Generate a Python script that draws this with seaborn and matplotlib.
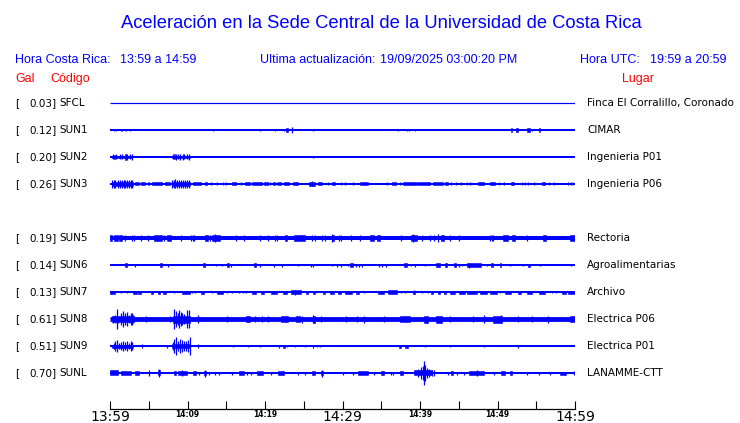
import seaborn as sns
import pandas as pd
import matplotlib
matplotlib.use("Agg")
import matplotlib.pyplot as plt

# station rows (row index from top, SUN4 slot left empty)
codes = ["SFCL", "SUN1", "SUN2", "SUN3", "SUN5", "SUN6", "SUN7", "SUN8", "SUN9", "SUNL"]
rows = [0, 1, 2, 3, 5, 6, 7, 8, 9, 10]
gal = [0.03, 0.12, 0.20, 0.26, 0.19, 0.14, 0.13, 0.61, 0.51, 0.70]
places = ["Finca El Corralillo, Coronado", "CIMAR", "Ingenieria P01", "Ingenieria P06",
          "Rectoria", "Agroalimentarias", "Archivo", "Electrica P06", "Electrica P01",
          "LANAMME-CTT"]
# half thickness of the quiet trace, in pixels
base_amp = [0.6, 1.0, 1.0, 1.0, 2.0, 1.0, 1.0, 2.4, 1.0, 1.0]

# trace envelopes: (minute, half-amplitude px) spikes
# and (start minute, end minute, half-amplitude px) bursts
sfcl = []
sun1 = [(0.56, 1.3), (0.77, 1.3), (1.38, 1.0), (1.59, 1.3), (2.02, 1.3), (2.62, 1.3),
        (13.3, 1.3), (19.4, 1.0), (21.3, 1.3), (22.5, 1.3), (22.7, 22.95, 1.8), (23.5, 2.7),
        (26.2, 1.3), (37.1, 1.0), (38.3, 1.0), (38.6, 1.0), (39.4, 1.3), (51.75, 51.9, 1.8),
        (52.4, 52.7, 1.8), (53.8, 54.2, 1.8), (54.5, 1.3), (55.3, 55.45, 1.8)]
sun2 = [(0.3, 2.9, 1.2), (0.39, 2.5), (0.5, 0.62, 2.0), (0.77, 2.5), (1.29, 2.5), (1.5, 2.5),
        (1.9, 2.0, 2.8), (2.06, 2.5), (2.24, 3.0), (2.58, 2.5), (2.8, 3.0),
        (8.0, 10.3, 1.2), (8.13, 2.5), (8.25, 8.38, 2.5), (8.5, 2.8), (8.8, 2.5), (9.0, 2.8),
        (9.4, 3.0), (9.55, 2.5), (9.98, 2.5), (10.2, 3.0), (26.2, 0.8)]
sun3 = [(0.2, 3.0, 2.0), (0.3, 4.0), (0.47, 4.2), (0.65, 4.0), (1.0, 4.2), (1.25, 3.8),
        (1.5, 4.2), (1.76, 4.0), (1.98, 4.2), (2.2, 3.8), (2.45, 4.2), (2.7, 4.0), (2.88, 4.2),
        (3.2, 3.7, 1.5), (4.0, 4.5, 1.5), (4.9, 5.0, 1.5), (5.4, 6.7, 1.5), (7.1, 7.7, 1.5),
        (8.0, 10.3, 2.0), (8.05, 4.0), (8.2, 4.2), (8.4, 4.5), (8.6, 4.0), (8.9, 3.8),
        (9.15, 4.2), (9.4, 4.0), (9.7, 3.8), (9.98, 4.2), (10.2, 4.0),
        (10.7, 11.8, 1.5), (12.25, 12.5, 1.5), (13.0, 1.5), (13.8, 1.5), (14.6, 1.5),
        (15.0, 1.5), (15.8, 16.2, 1.5), (16.9, 1.5), (17.4, 18.0, 1.5), (18.3, 19.6, 1.5),
        (19.9, 20.4, 1.5), (20.7, 1.5), (21.0, 21.3, 1.5), (21.5, 1.5), (21.7, 22.1, 1.5),
        (22.5, 23.1, 1.5), (23.6, 24.3, 1.5), (25.7, 26.5, 1.6), (26.0, 2.5),
        (26.8, 27.3, 1.5), (28.1, 1.5), (28.7, 29.0, 1.5), (29.8, 1.5), (30.3, 1.5),
        (31.4, 1.5), (32.2, 33.3, 1.5), (35.8, 1.5), (36.4, 36.9, 1.5), (37.4, 1.5),
        (37.8, 39.6, 1.5), (39.8, 41.3, 1.5), (41.7, 43.0, 1.5), (43.2, 43.6, 1.5),
        (44.0, 1.5), (44.7, 1.5), (45.3, 1.5), (46.0, 1.5), (46.4, 1.5), (47.5, 48.2, 1.5),
        (49.0, 49.7, 1.5), (50.2, 1.5), (50.9, 1.5), (51.7, 52.1, 1.5), (53.1, 1.5),
        (53.6, 1.5), (53.9, 1.5), (54.7, 1.5), (55.7, 56.1, 1.5), (56.6, 1.5), (57.3, 1.5),
        (59.1, 1.5), (59.5, 1.5), (59.8, 1.5)]
sun5 = [(0.0, 0.3, 2.7), (0.56, 1.0, 2.7), (1.16, 1.5, 2.7), (1.94, 3.0), (2.8, 3.0),
        (3.14, 3.0), (4.0, 3.0), (4.95, 3.0), (5.68, 6.67, 2.7), (7.0, 3.0), (7.3, 7.87, 2.7),
        (9.16, 3.0), (10.45, 3.0), (10.7, 3.0), (10.9, 3.0), (12.25, 12.7, 2.7), (12.9, 3.0),
        (13.1, 14.2, 2.7), (13.6, 3.8), (16.3, 3.0), (17.3, 3.0), (19.35, 3.0), (20.4, 3.0),
        (21.3, 3.0), (21.6, 3.0), (22.6, 22.9, 2.7), (23.7, 25.1, 2.7), (26.0, 3.0),
        (26.4, 3.0), (27.3, 3.0), (27.7, 3.0), (28.6, 28.9, 2.7), (28.7, 4.0), (29.5, 3.0),
        (29.8, 3.0), (31.1, 3.0), (32.2, 3.0), (33.6, 34.1, 2.7), (34.4, 34.8, 2.7),
        (37.5, 3.0), (38.8, 39.6, 2.7), (39.1, 3.8), (40.2, 3.0), (41.3, 3.0), (41.8, 3.0),
        (42.35, 4.0), (42.7, 43.1, 2.7), (43.9, 3.0), (45.0, 3.0), (49.0, 3.0), (49.3, 3.0),
        (49.45, 3.0), (50.65, 51.3, 2.7), (51.9, 52.25, 2.7), (53.75, 3.0),
        (55.9, 56.2, 2.7), (59.3, 60.0, 2.7)]
sun6 = [(1.9, 2.15, 1.8), (3.27, 1.5), (6.45, 6.75, 1.8), (7.5, 1.5), (12.0, 12.2, 1.8),
        (13.7, 1.2), (14.5, 1.2), (15.1, 15.35, 1.8), (15.65, 1.5), (18.6, 18.9, 1.8),
        (19.3, 1.5), (21.2, 1.5), (22.2, 1.5), (24.2, 1.2), (25.9, 1.5), (26.2, 1.5),
        (28.6, 1.2), (29.3, 1.5), (29.85, 1.5), (30.7, 1.2), (31.0, 31.4, 1.8), (31.8, 1.5),
        (32.1, 1.5), (32.5, 1.5), (34.7, 1.5), (35.05, 1.5), (35.6, 1.5), (37.95, 38.3, 1.8),
        (38.8, 1.2), (39.4, 1.5), (40.7, 1.2), (42.05, 42.6, 1.8), (43.2, 43.45, 1.8),
        (44.4, 44.7, 1.8), (45.0, 1.5), (45.4, 1.2), (46.1, 47.9, 1.8), (46.35, 2.5),
        (48.7, 1.2), (49.15, 49.45, 1.8), (50.3, 50.5, 1.8), (51.6, 1.2), (53.3, 1.2),
        (53.9, 54.2, 1.5), (55.5, 1.2), (59.5, 1.2)]
sun7 = [(0.0, 0.65, 1.5), (1.38, 1.3), (2.15, 1.3), (3.0, 3.45, 1.5), (3.65, 4.0, 1.5),
        (5.3, 5.6, 1.5), (6.25, 6.45, 1.5), (6.9, 7.2, 1.5), (8.3, 1.3), (9.3, 10.3, 1.5),
        (10.6, 1.3), (10.95, 1.3), (11.8, 12.1, 1.5), (13.1, 1.3), (13.85, 14.6, 1.5),
        (15.05, 1.3), (15.8, 1.3), (16.6, 1.3), (17.1, 1.3), (17.6, 1.3), (18.3, 18.9, 1.5),
        (19.5, 19.9, 1.5), (20.8, 21.6, 1.5), (22.35, 22.8, 1.5), (23.35, 24.6, 1.7),
        (23.9, 2.5), (25.3, 25.6, 1.5), (26.2, 26.5, 1.5), (27.5, 27.8, 1.5),
        (28.4, 28.9, 1.5), (29.4, 29.8, 1.5), (30.3, 31.2, 1.5), (31.7, 32.1, 1.5),
        (32.8, 1.3), (34.6, 35.4, 1.5), (35.9, 37.0, 1.7), (37.5, 1.3), (38.05, 1.3),
        (39.1, 39.4, 1.5), (39.2, 2.2), (40.2, 1.3), (41.0, 1.3), (41.4, 41.7, 1.5),
        (42.3, 42.6, 1.5), (43.1, 43.4, 1.5), (43.9, 44.5, 1.5), (45.0, 45.8, 1.5),
        (46.0, 47.4, 1.5), (47.7, 48.6, 1.5), (49.0, 49.9, 1.5), (50.3, 1.3),
        (51.0, 51.8, 1.5), (52.7, 53.0, 1.5), (53.75, 54.4, 1.5), (55.3, 56.1, 1.5),
        (57.0, 1.3), (57.6, 1.3), (58.3, 58.9, 1.5), (59.1, 60.0, 1.5)]
sun8 = [(0.2, 3.1, 3.0), (0.43, 3.5), (0.65, 4.0), (0.86, 10.0), (1.08, 3.5), (1.42, 6.0),
        (1.63, 8.0), (1.94, 6.0), (2.2, 7.0), (2.45, 4.0), (2.67, 6.0), (2.88, 6.0),
        (3.0, 4.0), (4.6, 3.0), (7.75, 3.0), (8.1, 10.3, 3.5), (8.3, 10.0), (8.47, 8.0),
        (8.73, 6.0), (8.9, 9.0), (9.1, 7.0), (9.33, 6.0), (9.6, 5.0), (9.93, 9.0),
        (10.23, 9.0), (11.4, 4.0), (15.05, 3.0), (17.6, 18.05, 3.0), (18.7, 3.0),
        (19.55, 3.0), (20.4, 3.0), (22.1, 23.0, 3.0), (23.95, 24.5, 3.0), (24.8, 3.5),
        (26.2, 26.5, 3.5), (26.25, 4.0), (27.2, 3.0), (30.4, 3.0), (31.9, 3.0), (32.8, 3.5),
        (35.3, 3.0), (37.4, 38.7, 3.0), (40.5, 41.0, 3.5), (42.1, 42.8, 3.5), (43.9, 3.0),
        (46.8, 3.0), (48.2, 4.0), (49.45, 50.6, 3.5), (50.5, 4.0), (52.7, 3.0), (54.4, 3.0),
        (56.5, 3.5), (59.3, 60.0, 3.0)]
sun9 = [(0.3, 3.0, 1.5), (0.47, 3.0), (0.65, 5.0), (0.86, 6.0), (1.16, 3.0), (1.38, 4.0),
        (1.63, 5.0), (1.94, 4.0), (2.2, 5.0), (2.45, 3.0), (2.7, 5.0), (2.88, 4.0),
        (4.17, 2.0), (7.3, 1.5), (8.0, 10.35, 2.0), (8.1, 4.0), (8.3, 7.0), (8.47, 9.0),
        (8.73, 5.0), (9.03, 7.0), (9.25, 6.0), (9.5, 5.0), (9.76, 5.0), (10.0, 6.0),
        (10.3, 9.0), (11.4, 2.0), (15.9, 1.2), (17.75, 1.2), (19.35, 1.2), (21.8, 1.5),
        (22.3, 22.6, 1.5), (22.9, 1.3), (23.9, 1.2), (25.1, 1.2), (26.2, 1.5), (26.75, 1.3),
        (27.1, 1.2), (37.3, 37.5, 1.5), (38.0, 38.4, 1.5), (40.6, 1.3), (43.9, 1.2),
        (48.2, 1.3), (52.7, 1.5)]
sunl = [(0.0, 1.0, 2.5), (1.4, 2.7, 2.0), (3.2, 3.8, 2.0), (5.0, 2.5), (6.2, 6.45, 2.5),
        (6.3, 4.0), (8.25, 8.5, 1.8), (8.8, 10.0, 2.0), (9.3, 2.8), (10.75, 11.05, 1.8),
        (11.5, 1.5), (12.1, 12.4, 2.0), (12.3, 3.5), (12.8, 1.5), (13.5, 1.5), (14.0, 1.5),
        (15.7, 1.5), (16.6, 17.3, 1.8), (17.7, 1.5), (18.15, 1.5), (19.0, 19.8, 1.8),
        (20.8, 1.5), (21.7, 22.4, 1.8), (24.3, 1.5), (25.2, 1.5), (26.1, 26.4, 1.8),
        (27.2, 27.5, 2.0), (27.4, 3.5), (30.1, 1.5), (31.4, 1.5), (32.0, 33.3, 1.8),
        (34.05, 1.5), (35.0, 35.3, 1.8), (36.25, 1.5), (36.55, 1.5), (37.4, 37.75, 1.8),
        (39.2, 41.5, 2.5), (39.8, 4.0), (40.1, 6.0), (40.35, 7.0), (40.5, 12.0), (40.7, 8.0),
        (40.95, 5.0), (41.2, 4.0), (41.5, 3.0), (41.85, 2.5), (43.6, 1.5), (44.0, 44.2, 1.8),
        (44.8, 1.5), (45.7, 1.5), (46.3, 48.2, 1.8), (47.3, 2.5), (49.5, 1.5),
        (50.5, 51.0, 1.8), (51.6, 51.9, 1.8), (53.8, 1.5), (55.3, 1.5), (56.8, 1.5),
        (58.0, 58.9, 1.5), (59.9, 2.0)]
traces = [sfcl, sun1, sun2, sun3, sun5, sun6, sun7, sun8, sun9, sunl]

tick_minutes = [0, 10, 20, 30, 40, 50, 60]
tick_labels = ["13:59", "14:09", "14:19", "14:29", "14:39", "14:49", "14:59"]
big_labels = ["13:59", "14:29", "14:59"]

BLUE = "#0000ff"
RED = "#ff0000"
W, H = 740, 423
ROW0, STEP = 103, 27  # pixel y of the first row and row spacing
AX_TOP, AX_BOT = 90, 409

sns.set_theme(style="white")
plt.rcParams["font.family"] = ["DejaVu Sans"]

fig = plt.figure(figsize=(W / 100, H / 100), dpi=100)
ax = fig.add_axes([110 / W, 1 - AX_BOT / H, 465 / W, (AX_BOT - AX_TOP) / H])

for row, trace, b in zip(rows, traces, base_amp):
    line = pd.DataFrame({"minute": [0, 60], "y": [row, row]})
    sns.lineplot(data=line, x="minute", y="y", ax=ax, color=BLUE,
                 linewidth=2 * b * 0.72, solid_capstyle="butt")
    for ev in trace:
        if len(ev) == 2:
            t, a = ev
            ax.vlines(t, row - a / STEP, row + a / STEP, color=BLUE, linewidth=0.9)
        else:
            t0, t1, a = ev
            ax.bar(t0, 2 * a / STEP, bottom=row - a / STEP, width=t1 - t0, align="edge",
                   color=BLUE, edgecolor=BLUE, linewidth=0.4)

ax.set_xlim(0, 60)
ax.set_ylim((AX_BOT - ROW0) / STEP, (AX_TOP - ROW0) / STEP)
ax.set_xlabel("")
ax.set_ylabel("")
ax.set_yticks([])
for side in ["left", "top", "right"]:
    ax.spines[side].set_visible(False)
ax.spines["bottom"].set_color("black")
ax.spines["bottom"].set_linewidth(0.9)
ax.set_xticks(range(0, 61, 5))
ax.set_xticklabels([tick_labels[tick_minutes.index(m)] if m in tick_minutes else ""
                    for m in range(0, 61, 5)])
ax.tick_params(axis="x", bottom=True, direction="in", length=6, width=0.8,
               color="black", pad=0.5)
for lab in ax.get_xticklabels():
    lab.set_color("black")
    if lab.get_text() in big_labels:
        lab.set_fontsize(10)
    else:
        lab.set_fontsize(5.5)
        lab.set_fontweight("bold")
ax.patch.set_alpha(0)

# header texts
sans = "Liberation Sans"
fig.text(381 / W, 1 - 23 / H, "Aceleración en la Sede Central de la Universidad de Costa Rica",
         ha="center", va="center", color=BLUE, fontsize=13.2, family=sans)
hy = 1 - 60 / H
fig.text(15 / W, hy, "Hora Costa Rica:", color=BLUE, fontsize=9, family=sans, va="center")
fig.text(120 / W, hy, "13:59 a 14:59", color=BLUE, fontsize=9, family=sans, va="center")
fig.text(260 / W, hy, "Ultima actualización:", color=BLUE, fontsize=9, family=sans, va="center")
fig.text(380 / W, hy, "19/09/2025 03:00:20 PM", color=BLUE, fontsize=9, family=sans, va="center")
fig.text(580 / W, hy, "Hora UTC:", color=BLUE, fontsize=9, family=sans, va="center")
fig.text(650 / W, hy, "19:59 a 20:59", color=BLUE, fontsize=9, family=sans, va="center")
ly = 1 - 79 / H
fig.text(15 / W, ly, "Gal", color=RED, fontsize=9, family=sans, va="center")
fig.text(50 / W, ly, "Código", color=RED, fontsize=9, family=sans, va="center")
fig.text(654 / W, ly, "Lugar", color=RED, fontsize=9, family=sans, va="center", ha="right")

# station labels
for row, code, g, place in zip(rows, codes, gal, places):
    y = 1 - (ROW0 + STEP * row) / H
    fig.text(15 / W, y, "[", fontsize=7.5, va="center", color="black")
    fig.text(57 / W, y, f"{g:.2f}]", fontsize=7.5, va="center", ha="right", color="black")
    fig.text(59 / W, y, code, fontsize=7.5, va="center", color="black")
    fig.text(587 / W, y, place, fontsize=7.5, va="center", color="black")

fig.savefig("out.png", dpi=100, facecolor="white")
